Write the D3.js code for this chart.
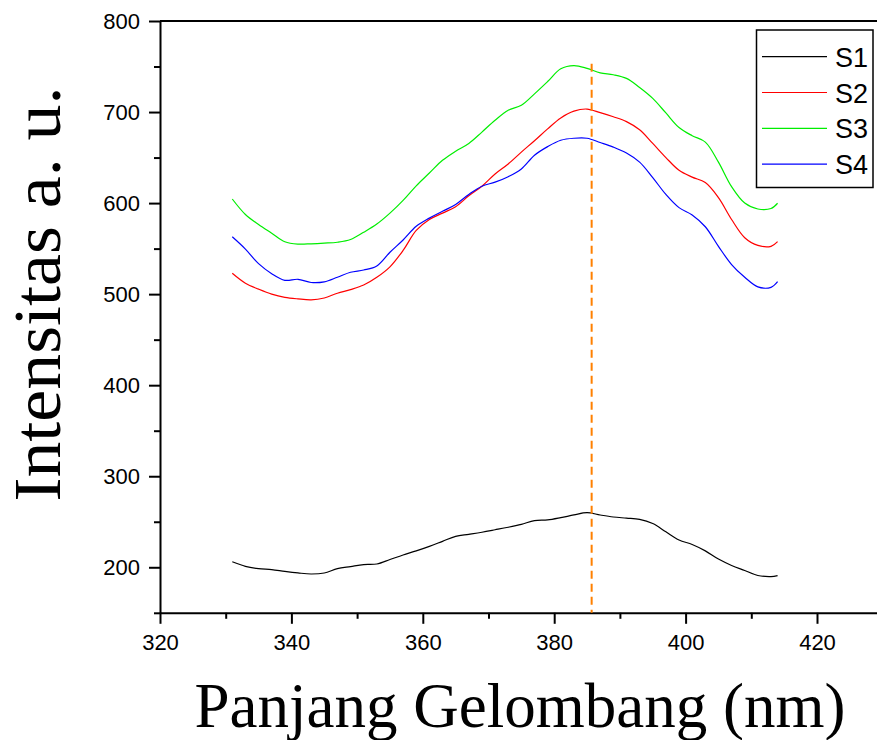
<!DOCTYPE html>
<html>
<head>
<meta charset="utf-8">
<script src="https://cdn.jsdelivr.net/npm/d3@7"></script>
<style>
  body { margin: 0; background: #fff; }
  .tick text { font-family: "Liberation Sans", Arial, sans-serif; }
</style>
</head>
<body>
<svg id="chart"></svg>
<script>
const width = 877;
const height = 740;

// wavelength (nm)
const wavelength = [331, 333, 335, 337, 339, 341, 343, 345, 347, 349, 351, 353, 355, 357, 359, 361,
  363, 365, 367, 369, 371, 373, 375, 377, 379, 381, 383, 385, 387, 389, 391, 393, 395, 397, 399,
  401, 403, 405, 407, 409, 411, 413, 414];

const s1 = [206, 201, 198.5, 197.5, 195.5, 193.8, 192.6, 193.7, 198.5, 200.8, 203, 203.6, 208.5,
  213.5, 218, 223, 228.5, 234, 236.2, 238.5, 241.2, 244, 247.2, 251.2, 252, 254.5, 257.5, 260,
  257.4, 255.2, 254, 252.7, 248, 239, 230, 225, 218, 209, 202, 196.5, 191, 189.8, 190.8];

const s2 = [522.9, 512, 505.5, 500, 496.5, 494.8, 493.8, 495.8, 501, 505, 510, 518.5, 530, 548,
  570, 582, 589, 596, 608, 618.5, 632, 643, 656, 668.5, 681.5, 693.5, 701, 703.3, 699.3, 694.8,
  689.5, 680.5, 665.5, 650, 636, 628.5, 622.5, 606, 582, 562, 553.5, 552.5, 557.6];

const s3 = [604.5, 587.5, 576.5, 567, 557.6, 555, 555.3, 556, 557, 560, 568, 577, 589, 603, 619,
  633, 647, 657, 665.5, 678, 691, 702, 707.5, 720, 733.5, 747.5, 751, 748, 743, 741, 737, 727,
  715, 699, 683, 674, 667, 645, 618, 600, 593.5, 594, 599.8];

const s4 = [563, 549.5, 533.5, 522.5, 515.2, 516.3, 512.8, 513.5, 518.5, 524, 526.5, 531, 546,
  559.5, 574.5, 583.5, 591, 598.5, 609.5, 618.5, 623, 629, 637.5, 652.5, 662, 669, 671.2, 671.2,
  666.5, 661.5, 655, 645, 628, 609.5, 595, 587, 574, 552.5, 532.5, 518.5, 508, 507.5, 513.7];

const seriesNames = ["S1", "S2", "S3", "S4"];
const seriesColors = ["#000000", "#ff0000", "#00ee00", "#0000ff"];
const seriesValues = [s1, s2, s3, s4];

const xTicks = [320, 340, 360, 380, 400, 420];
const xMinor = [330, 350, 370, 390, 410];
const yTicks = [200, 300, 400, 500, 600, 700, 800];
const yMinor = [150, 250, 350, 450, 550, 650, 750];

const peakLine = 385.7;

const plotLeft = 160, plotTop = 21, plotBottom = 612.8;

const svg = d3.select("#chart").attr("width", width).attr("height", height);

const xScale = d3.scaleLinear().domain([320, 430]).range([plotLeft, plotLeft + 110 * 6.57]);
const yScale = d3.scaleLinear().domain([150, 800]).range([plotBottom, plotTop]);

// top frame line
svg.append("line")
  .attr("x1", plotLeft).attr("x2", xScale(430))
  .attr("y1", plotTop).attr("y2", plotTop)
  .attr("stroke", "#000").attr("stroke-width", 2);

// minor ticks
svg.append("g")
  .attr("transform", `translate(0, ${plotBottom})`)
  .call(d3.axisBottom(xScale).tickValues(xMinor).tickSize(6).tickFormat(""))
  .call(g => g.select(".domain").remove())
  .selectAll("line").attr("stroke-width", 2);

svg.append("g")
  .attr("transform", `translate(${plotLeft}, 0)`)
  .call(d3.axisLeft(yScale).tickValues(yMinor).tickSize(6).tickFormat(""))
  .call(g => g.select(".domain").remove())
  .selectAll("line").attr("stroke-width", 2);

// major axes
const xAxis = svg.append("g")
  .attr("transform", `translate(0, ${plotBottom})`)
  .call(d3.axisBottom(xScale).tickValues(xTicks).tickSize(11).tickSizeOuter(0).tickPadding(11));
xAxis.select(".domain").attr("stroke-width", 2);
xAxis.selectAll(".tick line").attr("stroke-width", 2);
xAxis.selectAll(".tick text").attr("font-size", 22).attr("fill", "#000");

const yAxis = svg.append("g")
  .attr("transform", `translate(${plotLeft}, 0)`)
  .call(d3.axisLeft(yScale).tickValues(yTicks).tickSize(11).tickSizeOuter(0).tickPadding(9));
yAxis.select(".domain").attr("stroke-width", 2);
yAxis.selectAll(".tick line").attr("stroke-width", 2);
yAxis.selectAll(".tick text").attr("font-size", 22).attr("fill", "#000");

// lines
const line = d3.line()
  .x((d, i) => xScale(wavelength[i]))
  .y(d => yScale(d))
  .curve(d3.curveCatmullRom);

svg.selectAll(".series")
  .data(seriesValues)
  .enter()
  .append("path")
  .attr("class", "series")
  .attr("d", d => line(d))
  .attr("fill", "none")
  .attr("stroke", (d, i) => seriesColors[i])
  .attr("stroke-width", 1.2);

// dashed peak marker
svg.append("line")
  .attr("x1", xScale(peakLine)).attr("x2", xScale(peakLine))
  .attr("y1", yScale(753)).attr("y2", yScale(150))
  .attr("stroke", "#ff8000")
  .attr("stroke-width", 2)
  .attr("stroke-dasharray", "8,5");

// legend
const legend = svg.append("g").attr("id", "legend");

legend.append("rect")
  .attr("x", 756.5).attr("y", 30)
  .attr("width", 116.5).attr("height", 157.5)
  .attr("fill", "#fff")
  .attr("stroke", "#000")
  .attr("stroke-width", 1.5);

seriesNames.forEach((name, i) => {
  const ly = 56.7 + i * 35.8;
  legend.append("line")
    .attr("x1", 762).attr("x2", 827)
    .attr("y1", ly).attr("y2", ly)
    .attr("stroke", seriesColors[i])
    .attr("stroke-width", 1.2);
  legend.append("text")
    .attr("x", 835)
    .attr("y", ly + 10)
    .attr("font-family", "Liberation Sans, Arial, sans-serif")
    .attr("font-size", 27)
    .text(name);
});

// axis titles
svg.append("text")
  .attr("x", 520)
  .attr("y", 727)
  .attr("text-anchor", "middle")
  .attr("font-family", "Liberation Serif, Times New Roman, serif")
  .attr("font-size", 63)
  .text("Panjang Gelombang (nm)");

svg.append("text")
  .attr("transform", "translate(60, 294) rotate(-90)")
  .attr("text-anchor", "middle")
  .attr("font-family", "Liberation Serif, Times New Roman, serif")
  .attr("font-size", 67)
  .attr("textLength", 415)
  .attr("lengthAdjust", "spacingAndGlyphs")
  .text("Intensitas a. u.");
</script>
</body>
</html>
